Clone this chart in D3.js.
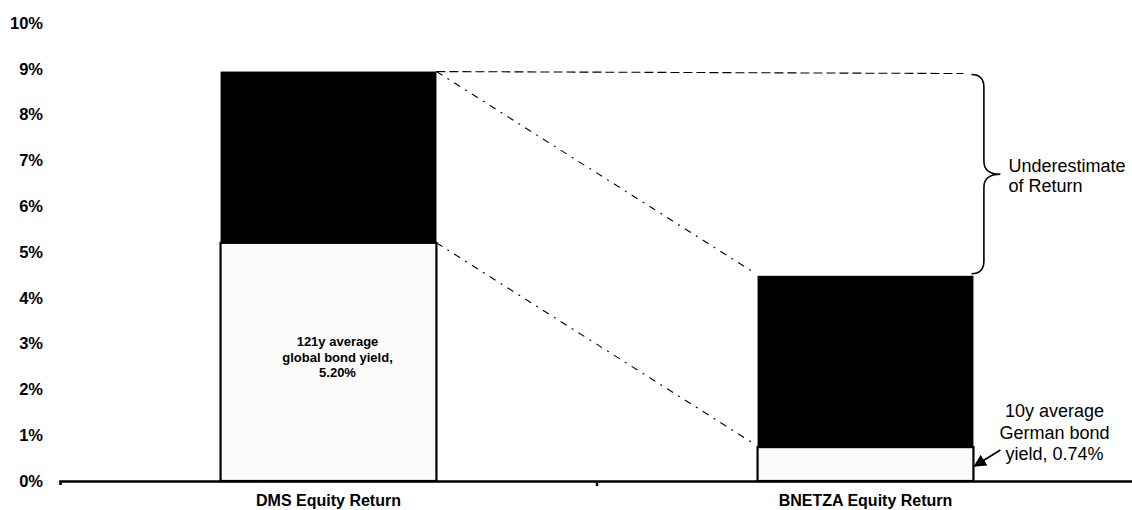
<!DOCTYPE html>
<html>
<head>
<meta charset="utf-8">
<script src="https://cdn.jsdelivr.net/npm/d3@7"></script>
<style>
  body { margin: 0; background: #fff; }
  svg { display: block; }
  text { font-family: "Liberation Sans", Arial, sans-serif; fill: #000; }
</style>
</head>
<body>
<svg id="chart" width="1132" height="510"></svg>
<script>
// Equity return split into bond yield (risk-free) and equity premium, in %
const categories = ["DMS Equity Return", "BNETZA Equity Return"];
const bondYield = [5.20, 0.74];
const equityPremium = [3.74, 3.74];
const yTicks = [0, 1, 2, 3, 4, 5, 6, 7, 8, 9, 10];
const bondLabels = [
  ["121y average", "global bond yield,", "5.20%"],
  ["10y average", "German bond", "yield, 0.74%"]
];
const gapLabel = ["Underestimate", "of Return"];

const rows = categories.map((c, i) => ({ cat: c, bond: bondYield[i], premium: equityPremium[i] }));
const stacked = d3.stack().keys(["bond", "premium"])(rows);

const svg = d3.select("#chart");

const x = d3.scaleBand().domain(categories).range([60, 1134])
  .paddingInner(0.598).paddingOuter(0.299);
const y = d3.scaleLinear().domain([0, 10]).range([481, 23]);

// Y axis: labels only
const yAxis = svg.append("g").attr("transform", "translate(47,0)")
  .call(d3.axisLeft(y).tickValues(yTicks).tickFormat(d => d + "%").tickSize(0).tickPadding(4));
yAxis.select(".domain").remove();
yAxis.selectAll("text").attr("font-size", 16.5).attr("font-weight", "bold")
  .attr("font-family", "'Liberation Sans', Arial, sans-serif").attr("fill", "#000");

// Bars
const fills = { bond: "#fbfbfb", premium: "#000" };
svg.append("g").selectAll("g").data(stacked).join("g")
  .attr("fill", d => fills[d.key])
  .attr("stroke", "#000")
  .attr("stroke-width", d => d.key === "bond" ? 2.2 : 0)
  .selectAll("rect").data(d => d).join("rect")
  .attr("x", d => x(d.data.cat))
  .attr("width", x.bandwidth())
  .attr("y", d => y(d[1]))
  .attr("height", d => y(d[0]) - y(d[1]));

// Connector lines between the bars
const top0 = y(bondYield[0] + equityPremium[0]);
const top1 = y(bondYield[1] + equityPremium[1]);
const right0 = x(categories[0]) + x.bandwidth();
const left1 = x(categories[1]);
const right1 = x(categories[1]) + x.bandwidth();
const guides = svg.append("g").attr("fill", "none").attr("stroke", "#000").attr("stroke-width", 1.1);
guides.append("line")
  .attr("x1", right0).attr("y1", top0).attr("x2", right1 - 10).attr("y2", top0 + 2)
  .attr("stroke-dasharray", "9,4");
guides.append("line")
  .attr("x1", right0).attr("y1", top0).attr("x2", left1 - 3).attr("y2", top1 - 3)
  .attr("stroke-dasharray", "7,6,2,6");
guides.append("line")
  .attr("x1", right0).attr("y1", y(bondYield[0])).attr("x2", left1 - 3).attr("y2", y(bondYield[1]) - 3)
  .attr("stroke-dasharray", "7,6,2,6");

// Curly brace marking the gap between the two totals
const bx0 = right1 - 2, bw = 29;
const by0 = top0 + 3, by1 = top1 - 2, tip = (by0 + by1) / 2, r = 13;
const bxm = bx0 + bw * 0.43, bx1 = bx0 + bw;
svg.append("path")
  .attr("d", `M${bx0},${by0} Q${bxm},${by0} ${bxm},${by0 + r} L${bxm},${tip - r} Q${bxm},${tip} ${bx1},${tip}
              Q${bxm},${tip} ${bxm},${tip + r} L${bxm},${by1 - r} Q${bxm},${by1} ${bx0},${by1}`)
  .attr("fill", "none").attr("stroke", "#000").attr("stroke-width", 1.6);
svg.append("text").attr("font-size", 18)
  .selectAll("tspan").data(gapLabel).join("tspan")
  .attr("x", bx1 + 8).attr("y", (d, i) => tip - 2 + i * 20).text(d => d);

// X axis: baseline with ticks at the category boundaries
const xAxis = svg.append("g").attr("transform", `translate(0,${y(0)})`)
  .call(d3.axisBottom(x).tickSize(0).tickSizeOuter(4).tickPadding(14));
xAxis.select(".domain").attr("stroke-width", 2.6);
xAxis.selectAll("text").attr("font-size", 16).attr("font-weight", "bold")
  .attr("font-family", "'Liberation Sans', Arial, sans-serif").attr("fill", "#000");
xAxis.append("line")
  .attr("x1", x.range()[0] + x.step()).attr("x2", x.range()[0] + x.step())
  .attr("y1", 0).attr("y2", 5).attr("stroke", "#000").attr("stroke-width", 2.4);

// Label inside the first bond segment
const midBond0 = y(bondYield[0] / 2);
svg.append("text").attr("text-anchor", "middle").attr("font-size", 13).attr("font-weight", "bold")
  .selectAll("tspan").data(bondLabels[0]).join("tspan")
  .attr("x", x(categories[0]) + x.bandwidth() / 2 + 9)
  .attr("y", (d, i) => midBond0 + 4 + (i - 1) * 15.5 - 4)
  .text(d => d);

// Callout for the second bond segment
const ax = right1 + 81;
svg.append("text").attr("text-anchor", "middle").attr("font-size", 18)
  .selectAll("tspan").data(bondLabels[1]).join("tspan")
  .attr("x", ax)
  .attr("y", (d, i) => 417 + i * 21.5)
  .text(d => d);
svg.append("defs").append("marker").attr("id", "head")
  .attr("viewBox", "0 0 10 10").attr("refX", 9).attr("refY", 5)
  .attr("markerWidth", 7).attr("markerHeight", 7).attr("orient", "auto")
  .append("path").attr("d", "M0,0 L10,5 L0,10 Z").attr("fill", "#000");
svg.append("line")
  .attr("x1", right1 + 27).attr("y1", 450)
  .attr("x2", right1 + 1).attr("y2", y(bondYield[1] / 2) + 2)
  .attr("stroke", "#000").attr("stroke-width", 1.8).attr("marker-end", "url(#head)");
</script>
</body>
</html>
